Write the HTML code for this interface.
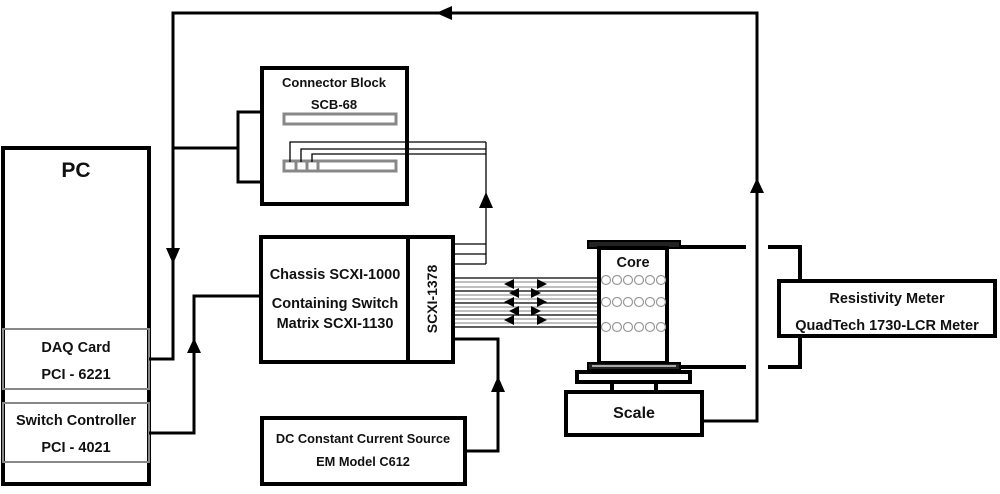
<!DOCTYPE html>
<html><head><meta charset="utf-8"><style>
html,body{margin:0;padding:0;background:#fff}
text{font-family:"Liberation Sans",sans-serif;font-weight:bold;fill:#111}
</style></head><body>
<svg width="1000" height="489" viewBox="0 0 1000 489" xmlns="http://www.w3.org/2000/svg">
<g fill="none" stroke="#000" stroke-width="4">
<rect x="3" y="148" width="146" height="336"/>
</g>
<g fill="none" stroke="#888" stroke-width="2">
<rect x="3" y="329" width="146" height="60"/>
<rect x="3" y="403" width="146" height="59"/>
</g>
<text x="76" y="177" font-size="21" text-anchor="middle">PC</text>
<text x="76" y="352" font-size="14.5" text-anchor="middle">DAQ Card</text>
<text x="76" y="379" font-size="14.5" text-anchor="middle">PCI - 6221</text>
<text x="76" y="425" font-size="14.5" text-anchor="middle">Switch Controller</text>
<text x="76" y="452" font-size="14.5" text-anchor="middle">PCI - 4021</text>

<g fill="none" stroke="#000" stroke-width="3">
<polyline points="149,359 173,359 173,13 757,13 757,421 702,421"/>
<polyline points="173,148 238,148"/>
<polyline points="262,112 238,112 238,182 262,182"/>
<polyline points="149,433 194,433 194,296 261,296"/>
<polyline points="453,339 498,339 498,451 465,451"/>
</g>
<g fill="#000">
<polygon points="166,248 180,248 173,264"/>
<polygon points="436,13 452,6 452,20"/>
<polygon points="750,193 764,193 757,178"/>
<polygon points="187,353 201,353 194,338"/>
<polygon points="479,208 493,208 486,192"/>
<polygon points="491,392 505,392 498,376"/>
</g>

<rect x="262" y="68" width="145" height="136" fill="none" stroke="#000" stroke-width="4"/>
<text x="334" y="87" font-size="13" text-anchor="middle">Connector Block</text>
<text x="334" y="109" font-size="13" text-anchor="middle">SCB-68</text>
<g fill="none" stroke="#888" stroke-width="3">
<rect x="284" y="114" width="112" height="10"/>
<rect x="284" y="161" width="112" height="10"/>
<line x1="296" y1="161" x2="296" y2="171"/>
<line x1="307" y1="161" x2="307" y2="171"/>
<line x1="318" y1="161" x2="318" y2="171"/>
</g>
<g fill="none" stroke="#000" stroke-width="1.3">
<polyline points="290,162 290,142 486,142"/>
<polyline points="301,162 301,149 486,149"/>
<polyline points="312,162 312,154 486,154"/>
<line x1="486" y1="142" x2="486" y2="264"/>
<line x1="453" y1="244" x2="486" y2="244"/>
<line x1="453" y1="254" x2="486" y2="254"/>
<line x1="453" y1="264" x2="486" y2="264"/>
</g>

<g fill="none" stroke="#000" stroke-width="4">
<rect x="261" y="237" width="192" height="125"/>
<line x1="408" y1="237" x2="408" y2="362"/>
</g>
<text x="335" y="279" font-size="14.5" text-anchor="middle">Chassis SCXI-1000</text>
<text x="335" y="308" font-size="14.5" text-anchor="middle">Containing Switch</text>
<text x="335" y="328" font-size="14.5" text-anchor="middle">Matrix SCXI-1130</text>
<text transform="translate(437,299) rotate(-90)" font-size="14" text-anchor="middle">SCXI-1378</text>

<rect x="262" y="418" width="203" height="66" fill="none" stroke="#000" stroke-width="4"/>
<text x="363" y="443" font-size="12.8" text-anchor="middle">DC Constant Current Source</text>
<text x="363" y="466" font-size="12.8" text-anchor="middle">EM Model C612</text>

<g stroke-width="1.2">
<line x1="455" y1="278" x2="598" y2="278" stroke="#000"/>
<line x1="455" y1="282" x2="598" y2="282" stroke="#999"/>
<line x1="455" y1="287" x2="598" y2="287" stroke="#999"/>
<line x1="455" y1="291" x2="598" y2="291" stroke="#000"/>
<line x1="455" y1="295" x2="598" y2="295" stroke="#999"/>
<line x1="455" y1="299" x2="598" y2="299" stroke="#999"/>
<line x1="455" y1="303" x2="598" y2="303" stroke="#000"/>
<line x1="455" y1="307" x2="598" y2="307" stroke="#999"/>
<line x1="455" y1="311" x2="598" y2="311" stroke="#999"/>
<line x1="455" y1="315" x2="598" y2="315" stroke="#000"/>
<line x1="455" y1="319" x2="598" y2="319" stroke="#999"/>
<line x1="455" y1="323" x2="598" y2="323" stroke="#999"/>
<line x1="455" y1="327" x2="598" y2="327" stroke="#000"/>
</g>
<g fill="#000">
<polygon points="504,284 514,279 514,289"/><polygon points="547,284 537,279 537,289"/>
<polygon points="509,293 519,288 519,298"/><polygon points="541,293 531,288 531,298"/>
<polygon points="504,302 514,297 514,307"/><polygon points="547,302 537,297 537,307"/>
<polygon points="509,311 519,306 519,316"/><polygon points="541,311 531,306 531,316"/>
<polygon points="504,320 514,315 514,325"/><polygon points="547,320 537,315 537,325"/>
</g>

<rect x="588" y="241" width="92" height="7" fill="#222" stroke="#000" stroke-width="2"/>
<rect x="599" y="248" width="68" height="115" fill="none" stroke="#000" stroke-width="4"/>
<rect x="588" y="363" width="92" height="7" fill="#222" stroke="#000" stroke-width="2"/>
<line x1="592" y1="366" x2="676" y2="366" stroke="#aaa" stroke-width="2"/>
<text x="633" y="267" font-size="14.5" text-anchor="middle">Core</text>
<g fill="none" stroke="#999" stroke-width="1.2">
<circle cx="606" cy="280" r="4.5"/><circle cx="617" cy="280" r="4.5"/><circle cx="628" cy="280" r="4.5"/><circle cx="639" cy="280" r="4.5"/><circle cx="650" cy="280" r="4.5"/><circle cx="661" cy="280" r="4.5"/>
<circle cx="606" cy="302" r="4.5"/><circle cx="617" cy="302" r="4.5"/><circle cx="628" cy="302" r="4.5"/><circle cx="639" cy="302" r="4.5"/><circle cx="650" cy="302" r="4.5"/><circle cx="661" cy="302" r="4.5"/>
<circle cx="606" cy="327" r="4.5"/><circle cx="617" cy="327" r="4.5"/><circle cx="628" cy="327" r="4.5"/><circle cx="639" cy="327" r="4.5"/><circle cx="650" cy="327" r="4.5"/><circle cx="661" cy="327" r="4.5"/>
</g>
<g fill="none" stroke="#000" stroke-width="4">
<rect x="577" y="372" width="113" height="10"/>
<line x1="612" y1="382" x2="612" y2="392"/>
<line x1="656" y1="382" x2="656" y2="392"/>
<rect x="566" y="392" width="136" height="43"/>
<line x1="680" y1="247" x2="746" y2="247"/>
<line x1="680" y1="367" x2="746" y2="367"/>
<polyline points="768,247 800,247 800,281"/>
<polyline points="768,367 800,367 800,336"/>
<rect x="779" y="281" width="216" height="55"/>
</g>
<text x="634" y="418" font-size="16" text-anchor="middle" font-weight="normal">Scale</text>
<text x="887" y="303" font-size="14.5" text-anchor="middle">Resistivity Meter</text>
<text x="887" y="330" font-size="14.5" text-anchor="middle">QuadTech 1730-LCR Meter</text>
</svg>
</body></html>
